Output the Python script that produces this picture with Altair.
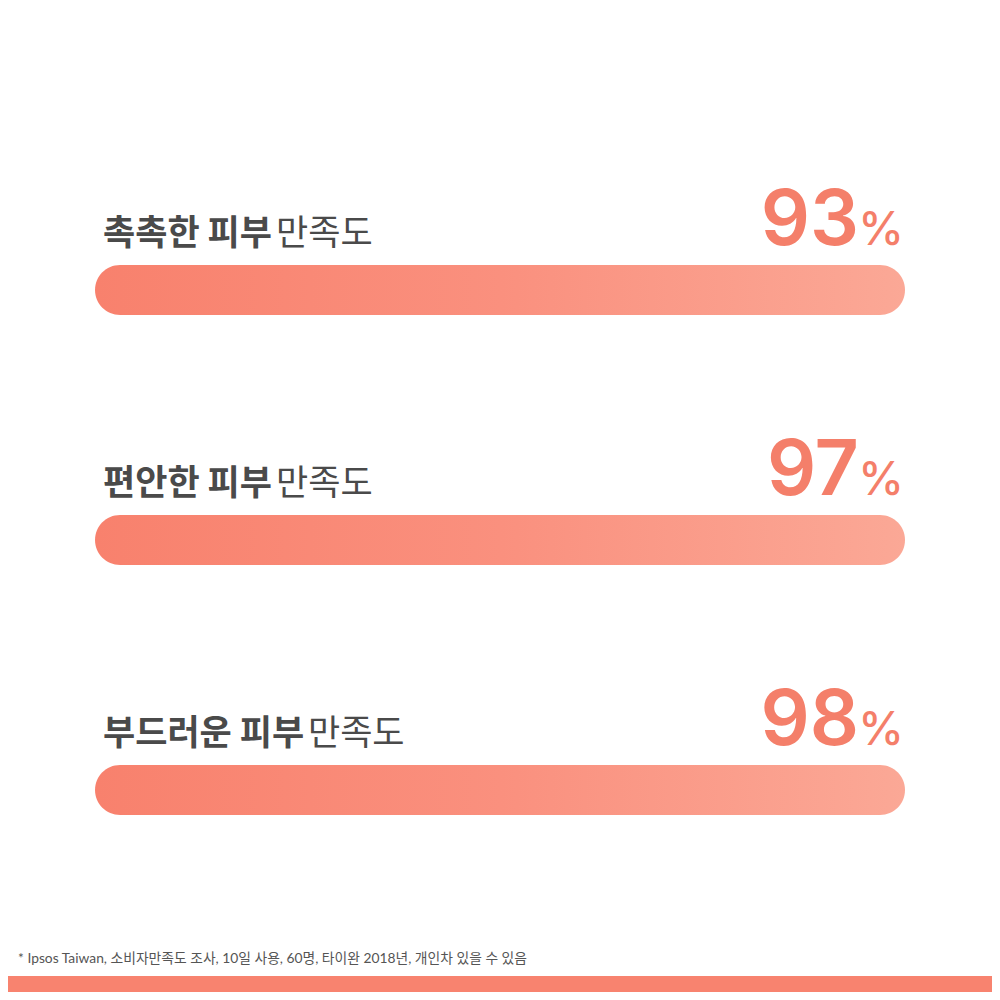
import altair as alt
import pandas as pd

# ---- data ----
categories = ["moist", "comfort", "soft"]
bold_labels = ["촉촉한 피부", "편안한 피부", "부드러운 피부"]
regular_label = "만족도"
values = [93, 97, 98]
footnote = "* Ipsos Taiwan, 소비자만족도 조사, 10일 사용, 60명, 타이완 2018년, 개인차 있을 수 있음"

df = pd.DataFrame({
    "cat": categories,
    "bold": bold_labels,
    "regular": [regular_label] * len(categories),
    "value": values,
})

PLOT_W = 810
PLOT_H = 750
LABEL_FS = 35
LABEL_COLOR = "#4a4a4a"
ACCENT = "#f47f6a"
KR_FONT = "Noto Sans CJK KR"
NUM_FONT = "Inter"

xscale = alt.Scale(domain=[0, 100])
yenc = alt.Y("cat:N", scale=alt.Scale(type="point", domain=categories, padding=0.5), axis=None)

base = alt.Chart(df)

bars = base.mark_bar(
    size=50,
    cornerRadius=25,
    color=alt.Gradient(
        gradient="linear",
        x1=0, x2=1, y1=0, y2=0,
        stops=[
            alt.GradientStop(color="#f8816d", offset=0),
            alt.GradientStop(color="#fa907e", offset=0.5),
            alt.GradientStop(color="#fba896", offset=1),
        ],
    ),
).encode(
    x=alt.datum(0, type="quantitative", scale=xscale, axis=None),
    x2=alt.datum(100),
    y=yenc,
)

bold_text = base.mark_text(
    align="left", baseline="alphabetic", dx=8, dy=-45,
    font=KR_FONT, fontSize=LABEL_FS, fontWeight="bold", color=LABEL_COLOR,
).encode(
    x=alt.datum(0, type="quantitative"),
    y=yenc,
    text="bold:N",
)

# regular part placed right after the bold part (width estimated from glyph count)
reg_text = base.transform_calculate(
    nsp="length(split(datum.bold, ' ')) - 1",
).transform_calculate(
    regx=f"(8 + {LABEL_FS} * 0.91 * (length(datum.bold) - datum.nsp) + {LABEL_FS} * 0.224 * datum.nsp + 6) / {PLOT_W} * 100",
).mark_text(
    align="left", baseline="alphabetic", dy=-45,
    font=KR_FONT, fontSize=LABEL_FS, fontWeight="normal", color=LABEL_COLOR,
).encode(
    x=alt.X("regx:Q"),
    y=yenc,
    text="regular:N",
)

num_text = base.mark_text(
    align="right", baseline="alphabetic", dx=-46, dy=-45,
    font=NUM_FONT, fontSize=77, fontWeight=600, color=ACCENT,
).encode(
    x=alt.datum(100, type="quantitative"),
    y=yenc,
    text=alt.Text("value:Q", format="d"),
)

pct_text = base.mark_text(
    align="right", baseline="alphabetic", dx=-1, dy=-45,
    font=NUM_FONT, fontSize=46, fontWeight=500, color=ACCENT,
).encode(
    x=alt.datum(100, type="quantitative"),
    y=yenc,
    text=alt.value("%"),
)

note_df = pd.DataFrame({"note": [footnote]})
note = alt.Chart(note_df).mark_text(
    align="left", baseline="alphabetic",
    font=f"Lato, {KR_FONT}", fontSize=13.8, color="#555555",
).encode(
    x=alt.value(-77),
    y=alt.value(798),
    text="note:N",
)

band = alt.Chart(note_df).mark_rect(color="#f8836f").encode(
    x=alt.value(-90),
    x2=alt.value(PLOT_W + 90),
    y=alt.value(811),
    y2=alt.value(840),
)

chart = alt.layer(bars, bold_text, reg_text, num_text, pct_text, note, band).properties(
    width=PLOT_W,
    height=PLOT_H,
    autosize=alt.AutoSizeParams(type="none"),
    padding={"left": 87, "right": 87, "top": 157, "bottom": 77},
    background="white",
).configure_view(stroke=None)

chart.save("out.html", embed_options={"renderer": "svg", "actions": False})
